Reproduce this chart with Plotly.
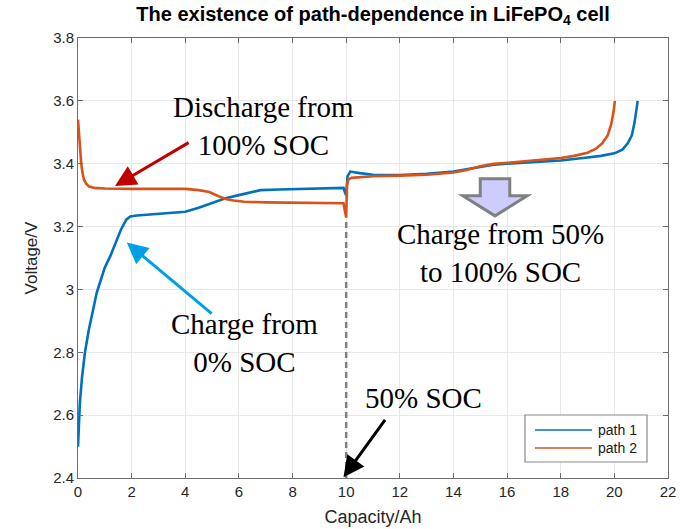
import plotly.graph_objects as go

# ---- data ----
cap1 = [0, 0.03, 0.07, 0.15, 0.26, 0.4, 0.55, 0.7, 0.85, 1.0, 1.2, 1.4, 1.6, 1.8, 1.95,
        2.2, 3.0, 4.0, 4.5, 5.0, 5.5, 6.0, 6.5, 6.8, 7.5, 8.5, 9.5, 9.9, 9.95, 10.0,
        10.05, 10.15, 10.5, 11, 12, 13, 14, 14.5, 15, 15.5, 16, 17, 18, 19, 19.5, 20,
        20.3, 20.5, 20.65, 20.75, 20.82, 20.87]
volt1 = [2.50, 2.58, 2.64, 2.72, 2.80, 2.87, 2.93, 2.99, 3.03, 3.07, 3.105, 3.145, 3.19, 3.222, 3.232,
         3.235, 3.24, 3.247, 3.26, 3.275, 3.29, 3.30, 3.31, 3.316, 3.318, 3.32, 3.322, 3.323, 3.31, 3.30,
         3.36, 3.375, 3.37, 3.365, 3.364, 3.368, 3.375, 3.382, 3.39, 3.397, 3.40, 3.405, 3.41, 3.42, 3.425, 3.433,
         3.445, 3.465, 3.49, 3.53, 3.57, 3.60]

cap2 = [0, 0.04, 0.08, 0.12, 0.17, 0.22, 0.3, 0.4, 0.6, 1.0, 2.0, 3.0, 4.0, 4.5, 4.9, 5.2, 5.5,
        5.8, 6.2, 7, 8, 9, 9.9, 9.95, 10.0, 10.03, 10.08, 10.2, 10.5, 11, 12, 13, 14, 14.5,
        15, 15.5, 16, 17, 18, 18.5, 19, 19.3, 19.55, 19.75, 19.88, 19.97, 20.02]
volt2 = [3.54, 3.49, 3.44, 3.40, 3.37, 3.35, 3.337, 3.328, 3.323, 3.321, 3.32, 3.32, 3.32, 3.316, 3.31,
         3.298, 3.288, 3.283, 3.279, 3.277, 3.276, 3.275, 3.274, 3.25, 3.23, 3.33, 3.35, 3.355, 3.357,
         3.36, 3.362, 3.365, 3.372, 3.38, 3.392, 3.40, 3.403, 3.41, 3.418, 3.425, 3.435, 3.447, 3.465,
         3.49, 3.525, 3.565, 3.60]

series_names = ["path 1", "path 2"]
x_ticks = [0, 2, 4, 6, 8, 10, 12, 14, 16, 18, 20, 22]
y_ticks = [2.4, 2.6, 2.8, 3.0, 3.2, 3.4, 3.6, 3.8]
y_tick_text = ["2.4", "2.6", "2.8", "3", "3.2", "3.4", "3.6", "3.8"]

soc50_cap = 10
soc50_top = 3.23

BLUE = "#0072BD"
ORANGE = "#D95319"
SERIF = "Liberation Serif, Times New Roman, serif"
SANS = "Liberation Sans, Arial, sans-serif"

# plot-area geometry (pixels) used for paper-coordinate placements
L, R, T, B = 78, 17, 38, 51
W, H = 685, 529
PW, PH = W - L - R, H - T - B
def px(x): return (x - L) / PW
def py(y): return (H - B - y) / PH

fig = go.Figure()
fig.add_trace(go.Scatter(x=cap1, y=volt1, mode="lines", name=series_names[0],
                         line=dict(color=BLUE, width=2.6), showlegend=False))
fig.add_trace(go.Scatter(x=cap2, y=volt2, mode="lines", name=series_names[1],
                         line=dict(color=ORANGE, width=2.6), showlegend=False))

# dashed 50% SOC line
fig.add_trace(go.Scatter(x=[soc50_cap, soc50_cap], y=[2.4, soc50_top], mode="lines",
                         showlegend=False, line=dict(color="#808080", width=2.5, dash="6px,4px")))

# block arrow (down)
bx, bhw, bsw = 15.55, 1.2, 0.55
btop, bneck, btip = 3.352, 3.298, 3.234
path = (f"M {bx-bsw},{btop} L {bx+bsw},{btop} L {bx+bsw},{bneck} L {bx+bhw},{bneck} "
        f"L {bx},{btip} L {bx-bhw},{bneck} L {bx-bsw},{bneck} Z")
fig.add_shape(type="path", path=path, xref="x", yref="y",
              fillcolor="#ccccff", line=dict(color="#808080", width=3))

ann = []
def arrow(x, y, ax, ay, color):
    ann.append(dict(x=x, y=y, ax=ax, ay=ay, xref="x", yref="y", axref="x", ayref="y",
                    text="", showarrow=True, arrowhead=2, arrowsize=1.4, arrowwidth=3,
                    arrowcolor=color, standoff=0, startstandoff=0))

arrow(1.38, 3.329, 4.18, 3.47, "#C00000")
arrow(1.82, 3.149, 5.04, 2.919, "#00A0E8")
arrow(9.9, 2.402, 11.49, 2.59, "#000000")

def label(x, y, text):
    ann.append(dict(x=x, y=y, xref="x", yref="y", text=text, showarrow=False,
                    font=dict(family=SERIF, size=29, color="#000000"), align="center"))

label(6.9, 3.52, "Discharge from<br>100% SOC")
label(15.75, 3.116, "Charge from 50%<br>to 100% SOC")
label(6.19, 2.83, "Charge from<br>0% SOC")
label(12.87, 2.655, "50% SOC")

# legend box (drawn in paper coordinates)
fig.add_shape(type="rect", xref="paper", yref="paper",
              x0=px(525), x1=px(647), y0=py(462), y1=py(415),
              fillcolor="white", line=dict(color="#8a8a8a", width=1.2))
for i, (nm, col) in enumerate(zip(series_names, [BLUE, ORANGE])):
    ly = 430 + i * 18
    fig.add_shape(type="line", xref="paper", yref="paper",
                  x0=px(535), x1=px(592), y0=py(ly), y1=py(ly),
                  line=dict(color=col, width=2), opacity=0.75)
    ann.append(dict(x=px(596), y=py(ly), xref="paper", yref="paper", text=nm,
                    showarrow=False, xanchor="left", yanchor="middle",
                    font=dict(family=SANS, size=14, color="#1a1a1a")))

axis_common = dict(showline=True, linecolor="#6e6e6e", linewidth=1, mirror="ticks",
                   ticks="inside", ticklen=5, tickcolor="#6e6e6e", automargin=False,
                   showgrid=True, gridcolor="#e8e8e8", gridwidth=1, zeroline=False,
                   tickfont=dict(family=SANS, size=15, color="#262626"))

fig.update_layout(
    width=W, height=H,
    margin=dict(l=L, r=R, t=T, b=B),
    paper_bgcolor="white", plot_bgcolor="white",
    title=dict(text="<b>The existence of path-dependence in LiFePO<sub>4</sub> cell</b>",
               x=(78 + 668) / 2 / W, xanchor="center", y=1 - 14 / H, yanchor="middle",
               font=dict(family=SANS, size=20, color="#000000")),
    xaxis=dict(range=[0, 22], tickvals=x_ticks, ticktext=[str(t) for t in x_ticks],
               title=dict(text="Capacity/Ah", standoff=11,
                          font=dict(family=SANS, size=18, color="#262626")),
               **axis_common),
    yaxis=dict(range=[2.4, 3.8], tickvals=y_ticks, ticktext=y_tick_text,
               title=dict(text="Voltage/V", standoff=11,
                          font=dict(family=SANS, size=17, color="#262626")),
               **axis_common),
    annotations=ann,
    showlegend=False,
)

fig.write_html("out.html")
